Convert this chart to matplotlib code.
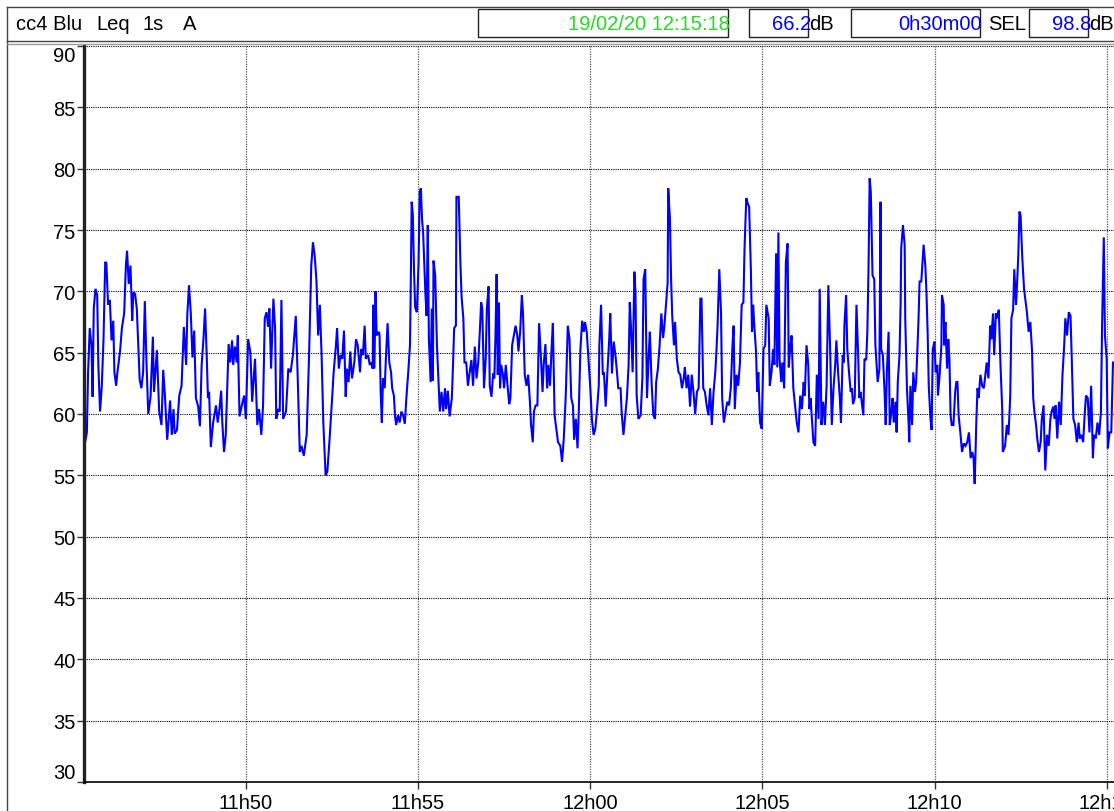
import matplotlib.pyplot as plt
from matplotlib.lines import Line2D
from matplotlib.patches import Rectangle

plt.rcParams['font.family'] = ['Liberation Sans', 'DejaVu Sans']

# measurement header
channel = "cc4 Blu"
index_name = "Leq"
interval = "1s"
weighting = "A"
end_stamp = "19/02/20 12:15:18"
leq_total = "66.2"
duration = "0h30m00"
sel_total = "98.8"

# run starts 11:45:18, one reading per second, 30 minutes
start_h, start_m, start_s = 11, 45, 18
run_seconds = 1800

# seconds since start / Leq 1s in dB(A)
seconds = [
    0, 5, 7, 10, 13, 15, 17, 20, 23, 25, 28, 31, 34, 37, 39, 42, 45, 48, 51, 53,
    56, 58, 63, 66, 70, 73, 75, 78, 81, 84, 86, 89, 92, 95, 97, 100, 103, 106, 109, 112,
    116, 120, 122, 127, 131, 135, 138, 141, 145, 150, 153, 156, 158, 162, 166, 170, 174, 178, 180, 183,
    186, 189, 192, 195, 199, 202, 205, 208, 211, 214, 216, 218, 221, 225, 230, 233, 236, 239, 241, 244,
    247, 250, 252, 255, 258, 260, 263, 266, 268, 271, 275, 279, 282, 286, 290, 293, 298, 302, 305, 309,
    312, 315, 318, 321, 323, 326, 330, 333, 335, 338, 341, 344, 347, 352, 356, 360, 364, 369, 372, 376,
    379, 383, 388, 392, 396, 399, 402, 405, 408, 411, 414, 417, 421, 424,
    428, 431, 433, 435, 439, 441, 444, 447, 450, 453, 456, 458, 461, 464, 467, 471, 474, 477, 481, 483,
    486, 489, 491, 495, 498, 501, 503, 504, 506, 508, 510, 514, 515, 517, 519, 521, 524, 526, 529, 532,
    535, 537, 540, 542, 544, 547, 550, 553, 556, 559, 562, 565, 568, 569, 571, 573, 575, 577, 580, 583,
    585, 587, 589, 591, 593, 595, 597, 599, 601, 604, 606, 608, 609, 612, 615, 617, 620, 623, 626, 629,
    631, 634, 637, 641, 643, 645, 648, 649, 653, 656, 658, 661, 663, 666, 669, 672, 675, 678, 681, 684,
    687, 690, 692, 694, 697, 700, 702, 705, 707, 710, 713, 715, 717, 719, 721, 723, 725, 727, 730, 732,
    735, 738, 741, 743, 746, 749, 752, 755, 757, 760, 763, 765, 768, 771, 774, 777, 779, 782, 784, 787,
    790, 793, 796, 799, 801, 804, 807, 809, 812, 815, 817, 820, 823, 826, 830, 833, 836, 839, 840, 843,
    846, 849, 852, 854, 857, 860, 862, 865, 868, 871, 873, 876,
    879, 882, 885, 888, 891, 894, 897, 898, 901, 904, 906, 909, 912, 915, 917, 920, 923, 926, 928, 931,
    935, 937, 940, 943, 946, 949, 951, 953, 956, 959, 961, 963, 966, 970, 973, 975, 978, 981, 984, 986,
    989, 992, 995, 997, 1000, 1003, 1006, 1009, 1011, 1014, 1017, 1018, 1021, 1023, 1025, 1028, 1030, 1033, 1036, 1039,
    1042, 1045, 1047, 1050, 1053, 1056, 1059, 1062, 1065, 1068, 1071, 1074, 1076, 1079, 1082, 1085, 1088, 1091, 1094, 1097,
    1100, 1102, 1104, 1107, 1110, 1112, 1115, 1118, 1121, 1124, 1127, 1130, 1132, 1134, 1137, 1140, 1143, 1146, 1149, 1151,
    1154, 1157, 1159, 1162, 1164, 1166, 1168, 1171, 1173, 1175, 1178, 1181, 1184, 1187, 1189, 1193, 1195, 1198, 1201, 1203,
    1206, 1208, 1210, 1212, 1215, 1217, 1220, 1223, 1226, 1228, 1231, 1233, 1236, 1239, 1242, 1245, 1248, 1251, 1254, 1256,
    1259, 1262, 1264, 1266, 1269, 1271, 1274, 1277, 1280, 1282, 1285, 1288, 1291, 1294,
    1297, 1300, 1303, 1306, 1309, 1311, 1314, 1317, 1319, 1322, 1324, 1325, 1328, 1330, 1333, 1336, 1338, 1340, 1343, 1346,
    1349, 1351, 1353, 1356, 1358, 1360, 1363, 1365, 1367, 1369, 1371, 1374, 1377, 1379, 1383, 1386, 1388, 1389, 1392, 1395,
    1397, 1399, 1402, 1404, 1407, 1409, 1411, 1414, 1416, 1418, 1421, 1423, 1424, 1427, 1430, 1431, 1434, 1437, 1438, 1440,
    1443, 1445, 1448, 1450, 1452, 1454, 1456, 1459, 1463, 1466, 1468, 1470, 1472, 1475, 1477, 1479, 1482, 1484, 1487, 1488,
    1491, 1494, 1495, 1498, 1499, 1501, 1504, 1506, 1508, 1510, 1512, 1515, 1518, 1520, 1522, 1524, 1527, 1530, 1533, 1536,
    1539, 1542, 1545, 1548, 1550, 1552, 1555, 1557, 1559, 1562, 1565, 1568, 1571, 1573, 1576, 1579, 1581, 1584, 1586, 1589,
    1591, 1594, 1597, 1600, 1601, 1605, 1608, 1611, 1614, 1616, 1619, 1621, 1624, 1625, 1628, 1630, 1632, 1635, 1638, 1641,
    1643, 1646, 1649, 1652, 1654, 1656, 1659, 1661, 1664, 1667, 1669, 1672, 1675, 1678, 1681, 1684, 1686, 1689, 1691, 1693,
    1696, 1699, 1702, 1705, 1708, 1710, 1713, 1716, 1719, 1721, 1724, 1727, 1730, 1733, 1735, 1738, 1741, 1744, 1746, 1749,
    1752, 1755, 1758, 1760, 1763, 1766, 1769, 1772, 1774, 1777, 1779, 1782, 1784, 1787, 1790, 1793,
]

leq_db = [
    57.2, 58.5, 63.2, 67.0, 65.6, 61.4, 68.6, 70.2, 69.7, 64.0, 60.2, 62.3, 66.1, 72.4, 72.3, 68.9, 69.3, 66.0, 67.6, 63.4,
    62.3, 63.3, 65.2, 67.0, 68.2, 72.1, 73.3, 70.6, 72.1, 67.6, 69.9, 69.8, 68.6, 65.1, 62.8, 62.1, 63.4, 69.2, 64.0, 60.0,
    61.4, 66.3, 61.8, 65.2, 60.2, 59.1, 63.6, 61.5, 57.9, 61.1, 58.3, 60.4, 58.4, 58.7, 61.5, 62.3, 67.1, 64.0, 68.1, 70.5,
    68.3, 64.6, 66.8, 61.3, 60.6, 59.0, 64.0, 66.0, 68.6, 64.5, 61.3, 61.8, 57.3, 59.3, 60.7, 59.3, 60.4, 61.9, 59.3, 56.9,
    58.3, 62.9, 65.7, 64.2, 66.0, 64.0, 65.5, 64.2, 66.4, 59.8, 60.7, 61.5, 59.6, 66.1, 65.0, 61.0, 64.5, 59.1, 60.4, 58.3,
    60.7, 67.8, 68.3, 67.1, 68.6, 63.7, 69.4, 67.0, 59.6, 60.4, 60.2, 69.3, 59.6, 60.2, 63.7, 63.4, 64.8, 68.0, 63.6, 56.9,
    57.4, 56.6, 58.3, 64.5, 72.1, 74.0, 72.9, 70.9, 66.4, 68.9, 64.8, 59.3, 55.0, 55.3,
    58.0, 60.2, 61.8, 63.4, 65.6, 67.0, 63.7, 64.8, 64.5, 66.8, 61.4, 63.7, 62.6, 65.1, 62.9, 64.2, 66.1, 65.6, 63.4, 65.3,
    64.8, 67.2, 64.5, 64.8, 64.0, 64.2, 63.7, 68.9, 63.7, 70.0, 66.4, 66.7, 66.4, 61.7, 59.3, 62.9, 62.1, 64.5, 67.4, 64.2,
    63.4, 62.1, 61.5, 59.8, 59.1, 59.9, 59.3, 60.2, 59.9, 59.2, 61.5, 63.4, 65.6, 68.9, 77.3, 76.2, 71.8, 68.7, 68.3, 72.4,
    78.1, 78.4, 75.9, 74.7, 72.1, 69.7, 68.0, 75.4, 66.1, 62.6, 68.6, 62.7, 72.5, 71.3, 65.6, 63.4, 60.2, 61.8, 60.2, 62.1,
    60.4, 61.9, 59.8, 61.3, 64.0, 67.0, 67.2, 77.7, 77.7, 72.1, 69.5, 67.8, 64.2, 64.2, 62.3, 63.4, 64.4, 62.3, 65.5, 62.9,
    64.2, 67.0, 69.1, 68.6, 62.1, 64.5, 68.6, 70.4, 62.3, 61.4, 63.3, 62.9, 66.4, 71.4, 63.2, 69.1, 62.1, 64.0, 63.2, 62.1,
    64.0, 62.3, 60.8, 61.3, 65.6, 66.4, 67.2, 66.4, 65.1, 66.7, 69.7, 68.2, 63.2, 62.3, 63.2, 61.0, 59.1, 57.7, 60.2, 60.7,
    60.7, 67.4, 64.8, 61.8, 64.0, 65.7, 62.1, 64.0, 62.3, 65.6, 67.4, 59.9, 58.8, 57.7, 57.4, 56.1, 58.0, 61.0, 62.3, 67.2,
    66.1, 61.3, 60.7, 57.9, 59.6, 57.2, 60.0, 65.3, 67.6, 66.7, 67.5, 66.7,
    64.5, 62.3, 59.6, 58.3, 58.8, 60.4, 62.3, 65.6, 68.9, 63.2, 63.4, 60.6, 63.4, 65.9, 68.2, 63.3, 65.9, 64.8, 63.8, 62.1,
    62.1, 60.0, 58.3, 59.8, 61.3, 64.0, 69.1, 67.2, 63.4, 71.6, 69.9, 61.5, 59.6, 59.9, 62.9, 71.0, 71.8, 61.3, 64.8, 66.7,
    62.6, 59.9, 59.6, 62.6, 63.7, 65.6, 68.2, 66.2, 67.0, 68.8, 70.7, 78.4, 75.9, 71.0, 68.0, 65.6, 67.5, 64.5, 63.4, 63.2,
    62.1, 62.9, 63.8, 62.1, 63.2, 60.6, 63.2, 61.8, 60.0, 61.8, 62.1, 69.4, 69.4, 62.1, 61.8, 60.7, 59.9, 62.1, 59.1, 61.8,
    63.4, 65.1, 67.2, 71.8, 68.3, 61.3, 59.3, 60.2, 61.0, 60.7, 62.1, 65.6, 67.2, 60.4, 63.2, 62.3, 64.2, 68.9, 69.1, 73.5,
    77.6, 77.1, 76.9, 71.8, 66.7, 68.9, 67.2, 65.1, 61.8, 63.4, 59.3, 58.8, 65.3, 65.6, 68.9, 67.8, 62.3, 63.4, 65.3, 64.0,
    73.1, 63.8, 74.8, 64.5, 62.6, 64.2, 62.1, 72.4, 73.9, 63.8, 65.6, 66.4, 62.1, 60.7, 59.3, 58.5, 61.5, 60.4, 62.6, 61.5,
    65.6, 64.0, 60.4, 61.3, 59.1, 57.7, 57.4, 63.2, 59.6, 70.2, 59.1, 61.0, 59.1, 62.3,
    70.5, 65.6, 59.1, 62.1, 64.0, 66.0, 63.4, 61.3, 59.3, 64.8, 64.2, 67.2, 69.7, 65.3, 63.4, 61.8, 62.1, 60.8, 61.3, 68.9,
    64.8, 61.3, 61.8, 60.7, 59.9, 64.5, 64.4, 66.7, 71.8, 79.2, 78.1, 71.3, 71.0, 65.6, 62.6, 63.7, 77.3, 65.3, 64.8, 61.8,
    59.1, 63.4, 66.7, 59.1, 60.2, 61.3, 59.3, 61.0, 58.5, 62.6, 64.8, 69.1, 73.5, 75.4, 73.8, 67.8, 62.1, 59.1, 57.7, 62.3,
    59.1, 63.4, 61.8, 62.6, 65.1, 67.5, 70.8, 70.8, 73.8, 72.1, 69.9, 66.7, 62.3, 59.6, 58.7, 65.3, 65.9, 63.4, 64.0, 61.5,
    63.2, 65.6, 69.7, 68.9, 65.6, 67.5, 63.7, 66.1, 64.5, 59.9, 59.1, 59.1, 61.8, 62.6, 62.6, 59.9, 58.5, 56.9, 57.6, 57.4,
    57.7, 58.5, 56.4, 56.9, 56.4, 54.3, 59.6, 62.1, 61.3, 63.2, 62.3, 62.1, 63.4, 64.2, 62.9, 67.2, 66.1, 68.2, 64.8, 68.2,
    67.8, 68.5, 64.0, 60.4, 56.9, 57.4, 59.1, 58.3, 61.5, 67.8, 68.5, 71.8, 68.9, 69.7, 72.9, 76.5, 76.2, 72.7, 70.2, 69.1,
    68.3, 66.7, 67.5, 65.1, 61.3, 60.2, 59.1, 58.0, 56.9, 57.7, 59.6, 60.7, 55.4, 58.3, 57.4, 59.6, 60.2, 60.6, 59.6, 60.7,
    58.0, 61.0, 59.1, 63.2, 65.6, 67.8, 66.4, 68.3, 68.0, 64.8, 59.6, 59.1, 57.7, 59.3, 58.0, 58.3, 57.7, 60.2, 61.5, 61.3,
    58.5, 62.3, 56.4, 58.3, 58.0, 59.3, 58.3, 60.2, 67.2, 74.4, 66.4, 64.5, 57.2, 58.5, 58.5, 64.2,
]

db_ticks = list(range(30, 91, 5))

W, H = 1114, 812
fig = plt.figure(figsize=(W / 100, H / 100), dpi=100)


def fx(x):
    return x / W


def fy(y):
    return 1 - y / H


# plot area runs past the right edge of the window
ax = fig.add_axes([fx(84), fy(783), fx(1117) - fx(84), fy(47) - fy(783)])
ax.plot(seconds, leq_db, color='#0000ff', lw=1.5, solid_joinstyle='miter')
ax.set_xlim(0, run_seconds)
ax.set_ylim(30, 90)

fs = 14.5

# x ticks on every 5 minutes of clock time
offset = start_m * 60 + start_s
first = (5 * 60 - offset % (5 * 60)) % (5 * 60)
xt = list(range(first, run_seconds + 1, 300))
labels = []
for t in xt:
    total = start_h * 3600 + offset + t
    labels.append("%dh%02d" % (total // 3600, (total % 3600) // 60))
ax.set_xticks(xt)
ax.set_xticklabels(labels, fontsize=fs)
ax.set_yticks(db_ticks)
ax.set_yticklabels([str(v) for v in db_ticks], fontsize=fs)
ax.tick_params(axis='x', length=5, width=1, pad=3, color='#333333')
ax.tick_params(axis='y', length=5, width=1, pad=1, color='#333333')

ylab = ax.get_yticklabels()
ylab[0].set_va('bottom')
ylab[-1].set_va('top')

ax.grid(axis='y', color='black', ls=(0, (1, 1)), lw=0.8)
ax.grid(axis='x', color='#555555', ls=(0, (1, 1)), lw=0.9)
ax.set_axisbelow(True)

ax.spines['left'].set_linewidth(2.4)
ax.spines['left'].set_color('#222222')
ax.spines['bottom'].set_linewidth(1.2)
ax.spines['top'].set_visible(False)
ax.spines['right'].set_visible(False)

# window frame and header strip
fig.add_artist(Line2D([fx(7), fx(7)], [fy(8), fy(H)], color='#444444', lw=1))
fig.add_artist(Line2D([fx(7), fx(W)], [fy(8), fy(8)], color='#444444', lw=1))
fig.add_artist(Line2D([fx(7), fx(W)], [fy(41.5), fy(41.5)], color='#444444', lw=1))
fig.add_artist(Line2D([fx(7), fx(W)], [fy(44.5), fy(44.5)], color='#999999', lw=1))

for x0, x1 in [(478, 728), (749, 808), (851, 980), (1029, 1088)]:
    fig.add_artist(Rectangle((fx(x0), fy(38)), fx(x1) - fx(x0), fy(10) - fy(38),
                             fill=False, ec='#222222', lw=1, transform=fig.transFigure))

ty = fy(24)
fig.text(fx(16), ty, channel, fontsize=fs, va='center')
fig.text(fx(96), ty, index_name, fontsize=fs, va='center')
fig.text(fx(143), ty, interval, fontsize=fs, va='center')
fig.text(fx(183), ty, weighting, fontsize=fs, va='center')
fig.text(fx(730), ty, end_stamp, fontsize=fs, va='center', ha='right', color='#22dd22')
fig.text(fx(811), ty, leq_total, fontsize=fs, va='center', ha='right', color='#0000ff')
fig.text(fx(809), ty, "dB", fontsize=fs, va='center')
fig.text(fx(982), ty, duration, fontsize=fs, va='center', ha='right', color='#0000ff')
fig.text(fx(988), ty, "SEL", fontsize=fs, va='center')
fig.text(fx(1091), ty, sel_total, fontsize=fs, va='center', ha='right', color='#0000ff')
fig.text(fx(1089), ty, "dB", fontsize=fs, va='center')

fig.savefig('out.png', dpi=100)
